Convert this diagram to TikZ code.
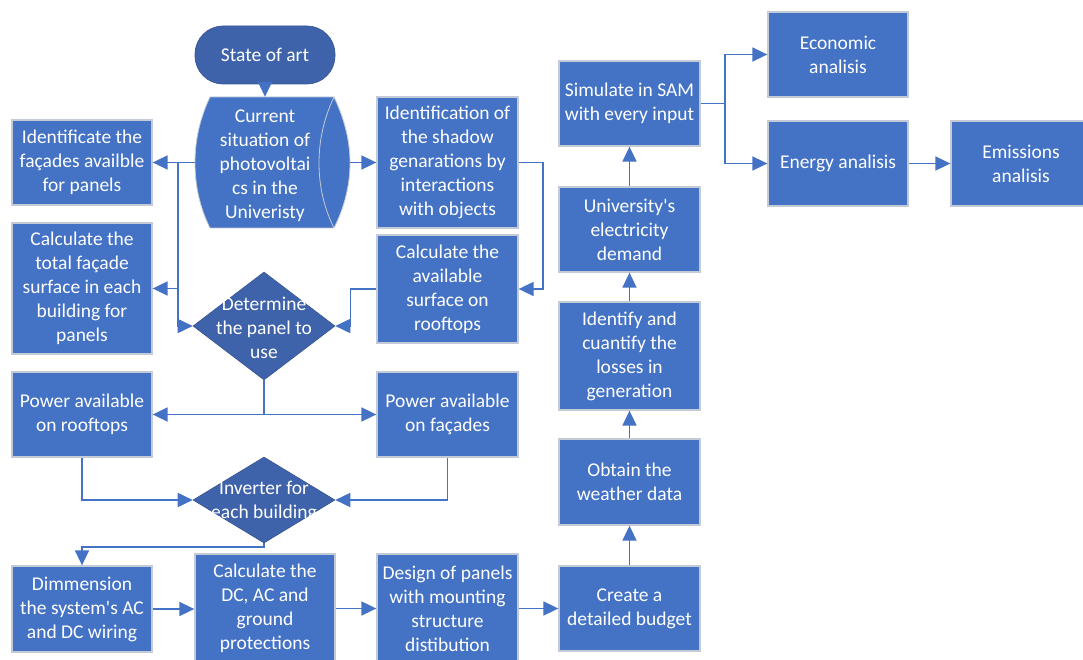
\documentclass[tikz,border=0pt]{standalone}
\usepackage{fontspec}
\setmainfont{Carlito}
\usetikzlibrary{arrows.meta,shapes.geometric}
\definecolor{boxblue}{HTML}{4472C4}
\definecolor{darkblue}{HTML}{3F63AB}
\definecolor{lineblue}{HTML}{4472C4}
\definecolor{edgegray}{HTML}{C5CBD6}
\tikzset{
  txt/.style={font=\fontsize{19.5}{24}\selectfont, text=white, align=center, inner sep=0pt},
  box/.style={txt, rectangle, fill=boxblue, draw=edgegray, line width=1.3pt, minimum width=141pt},
  dmd/.style={diamond, fill=darkblue, draw=darkblue!85!black, line width=0.6pt, inner sep=0pt, minimum width=142pt},
  term/.style={txt, rectangle, rounded corners=28pt, fill=darkblue, draw=darkblue!85!black, line width=0.6pt, minimum width=140pt, minimum height=58pt},
  arr/.style={draw=lineblue, line width=1.7pt, -{Triangle[length=15pt,width=14pt]}},
}
\begin{document}
\begin{tikzpicture}[x=1pt,y=-1pt]
\useasboundingbox (0,0) rectangle (1083,660);
\clip (0,0) rectangle (1083,660);
\fill[white] (0,0) rectangle (1083,660);

% start terminator
\node[term] (soa) at (265,55) {State of art};

% stored-data (horizontal cylinder) shape
\fill[boxblue] (210,97) -- (334,97) .. controls (344,118) and (350,140) .. (350,163)
  .. controls (350,186) and (344,208) .. (334,228) -- (210,228)
  .. controls (200,208) and (195,186) .. (195,163) .. controls (195,140) and (200,118) .. (210,97) -- cycle;
\draw[edgegray, line width=0.8pt] (210,97) -- (334,97) .. controls (344,118) and (350,140) .. (350,163)
  .. controls (350,186) and (344,208) .. (334,228) -- (210,228)
  .. controls (200,208) and (195,186) .. (195,163) .. controls (195,140) and (200,118) .. (210,97) -- cycle;
\draw[edgegray, line width=0.8pt] (334,97) .. controls (324,118) and (319,140) .. (319,163)
  .. controls (319,186) and (324,208) .. (334,228);
\node[inner sep=0pt, minimum width=155pt, minimum height=131pt] (cyl) at (272.5,162.5) {};
\node[txt] (cyltext) at (265,165.5) {Current\\situation of\\photovoltai\\cs in the\\Univeristy};

% left column
\node[box, minimum width=140pt, minimum height=85pt] (idf) at (82,162.5) {Identificate the\\façades availble\\for panels};
\node[box, minimum width=140pt, minimum height=131pt] (calct) at (82,288.5) {Calculate the\\total façade\\surface in each\\building for\\panels};
\node[box, minimum width=140pt, minimum height=85pt] (pr) at (82,414.5) {Power available\\on rooftops};
\node[box, minimum width=140pt, minimum height=86pt] (dim) at (82,609) {Dimmension\\the system\textquotesingle s AC\\and DC wiring};

% middle-right column
\node[box, minimum height=131pt] (shad) at (447.5,162.5) {Identification of\\the shadow\\genarations by\\interactions\\with objects};
\node[box, minimum height=108pt] (calca) at (447.5,289) {Calculate the\\available\\surface on\\rooftops};
\node[box, minimum height=85pt] (pf) at (447.5,414.5) {Power available\\on façades};

% diamonds
\node[dmd, minimum height=108pt] (det) at (264,326) {};
\node[txt] (dettext) at (264,328) {Determine\\the panel to\\use};
\node[dmd, minimum height=86pt] (inv) at (264,500) {};
\node[txt] (invtext) at (264,501.5) {Inverter for\\each building};

% bottom row
\node[box, minimum width=140pt, minimum height=109pt] (dcac) at (265,608.5) {Calculate the\\DC, AC and\\ground\\protections};
\node[box, minimum height=109pt] (design) at (447.5,608.5) {Design of panels\\with mounting\\structure\\distibution};

% right column
\node[box, minimum height=85pt] (budget) at (629.5,608.5) {Create a\\detailed budget};
\node[box, minimum height=86pt] (weather) at (629.5,482) {Obtain the\\weather data};
\node[box, minimum height=108pt] (ident) at (629.5,356) {Identify and\\cuantify the\\losses in\\generation};
\node[box, minimum height=85pt] (univ) at (629.5,229.5) {University\textquotesingle s\\electricity\\demand};
\node[box, minimum height=85pt] (sim) at (629.5,103.5) {Simulate in SAM\\with every input};

% analyses
\node[box, minimum width=140pt, minimum height=85pt] (econ) at (838,54.5) {Economic\\analisis};
\node[box, minimum width=140pt, minimum height=85pt] (energy) at (838,163.5) {Energy analisis};
\node[box, minimum width=140pt, minimum height=85pt] (emis) at (1021,163.5) {Emissions\\analisis};

% connectors
\draw[arr] (soa.south) -- (soa.south |- cyl.north);
\draw[arr] (cyl.west) -- (idf.east);
\draw[arr] (cyl.west) -- ++(-17,0) |- (calct.east);
\draw[arr] (cyl.west) -- ++(-17,0) |- (det.west);
\draw[arr] (cyl.east) -- (shad.west);
\draw[arr] (shad.east) -- ++(24,0) |- (calca.east);
\draw[arr] (calca.west) -- ++(-26,0) |- (det.east);
\draw[arr] (det.south) |- (pr.east);
\draw[arr] (det.south) |- (pf.west);
\draw[arr] (pr.south) |- (inv.west);
\draw[arr] (pf.south) |- (inv.east);
\draw[arr] (inv.south) -- ++(0,4) -| (dim.north);
\draw[arr] (dim.east) -- (dim.east -| dcac.west);
\draw[arr] (dcac.east) -- (dcac.east -| design.west);
\draw[arr] (design.east) -- (design.east -| budget.west);
\draw[arr] (budget.north) -- (weather.south);
\draw[arr] (weather.north) -- (ident.south);
\draw[arr] (ident.north) -- (univ.south);
\draw[arr] (univ.north) -- (sim.south);
\draw[arr] (sim.east) -- ++(24,0) |- (econ.west);
\draw[arr] (sim.east) -- ++(24,0) |- (energy.west);
\draw[arr] (energy.east) -- (emis.west);
\end{tikzpicture}
\end{document}
